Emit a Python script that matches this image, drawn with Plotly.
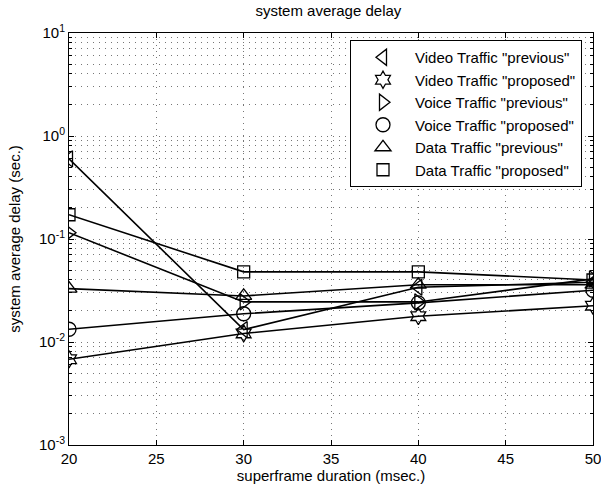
import plotly.graph_objects as go

# ---- data ----
durations = [20, 30, 40, 50]
video_previous = [0.60, 0.0132, 0.034, 0.038]
video_proposed = [0.0068, 0.0121, 0.0178, 0.0225]
voice_previous = [0.115, 0.0245, 0.0245, 0.041]
voice_proposed = [0.0133, 0.0188, 0.0240, 0.0318]
data_previous = [0.033, 0.028, 0.036, 0.036]
data_proposed = [0.172, 0.048, 0.048, 0.040]

series_names = ['Video Traffic "previous"', 'Video Traffic "proposed"',
                'Voice Traffic "previous"', 'Voice Traffic "proposed"',
                'Data Traffic "previous"', 'Data Traffic "proposed"']
series_values = [video_previous, video_proposed, voice_previous,
                 voice_proposed, data_previous, data_proposed]
symbols = ["triangle-left-open", "hexagram-open", "triangle-right-open",
           "circle-open", "triangle-up-open", "square-open"]
sizes = [14, 13, 14, 14, 14, 12]

x_ticks = [20, 25, 30, 35, 40, 45, 50]
y_tickvals = [1e-3, 1e-2, 1e-1, 1e0, 1e1]
y_ticktext = ["10<sup>-3</sup>", "10<sup>-2</sup>", "10<sup>-1</sup>",
              "10<sup>0</sup>", "10<sup>1</sup>"]

FONT = "Liberation Sans, Arial, Helvetica, sans-serif"

fig = go.Figure()
for name, vals, sym, sz in zip(series_names, series_values, symbols, sizes):
    fig.add_trace(go.Scatter(
        x=durations, y=vals, mode="lines+markers", name=name,
        showlegend=False,
        line=dict(color="black", width=1.6),
        marker=dict(symbol=sym, size=sz, color="black",
                    line=dict(color="black", width=1.3)),
    ))
# legend entries (marker only, as in the reference)
for name, sym, sz in zip(series_names, symbols, sizes):
    fig.add_trace(go.Scatter(
        x=[None], y=[None], mode="markers", name=name,
        marker=dict(symbol=sym, size=sz, color="black",
                    line=dict(color="black", width=1.3)),
    ))

grid_dash = "1px,5px"
fig.update_layout(
    width=601, height=490,
    margin=dict(l=69, r=8, t=33, b=45, autoexpand=False),
    paper_bgcolor="white", plot_bgcolor="white",
    font=dict(family=FONT, size=15, color="black"),
    title=dict(text="system average delay", x=0.495, xref="paper",
               xanchor="center", y=0.978, yanchor="middle",
               font=dict(size=15, family=FONT)),
    showlegend=True,
    legend=dict(x=0.979, xanchor="right", y=0.983, yanchor="top",
                bgcolor="white", bordercolor="black", borderwidth=1,
                font=dict(size=15, family=FONT), itemwidth=54,
                tracegroupgap=0),
)
fig.update_xaxes(
    range=[20, 50], tickvals=x_ticks, ticks="inside", ticklen=5,
    tickcolor="black", showline=True, linecolor="black", linewidth=1,
    mirror="allticks", showgrid=True, gridcolor="#777", griddash=grid_dash,
    gridwidth=1, zeroline=False, ticklabeloverflow="allow", automargin=False,
    title=dict(text="superframe duration (msec.)", standoff=3,
               font=dict(size=15)),
    tickfont=dict(size=15),
)
fig.update_yaxes(
    type="log", range=[-3, 1], tickvals=y_tickvals, ticktext=y_ticktext,
    ticks="inside", ticklen=5, tickcolor="black", showline=True,
    linecolor="black", linewidth=1, mirror="allticks", showgrid=True,
    gridcolor="#777", griddash=grid_dash, gridwidth=1, zeroline=False,
    ticklabeloverflow="allow", automargin=False,
    minor=dict(dtick="D1", ticks="inside", ticklen=3, tickcolor="black",
               showgrid=True, gridcolor="#777", griddash=grid_dash),
    title=dict(text="system average delay (sec.)", standoff=14,
               font=dict(size=15)),
    tickfont=dict(size=15),
)

fig.write_html("out.html",
               config={"displayModeBar": False},
               post_script="document.body.style.margin='0';")
